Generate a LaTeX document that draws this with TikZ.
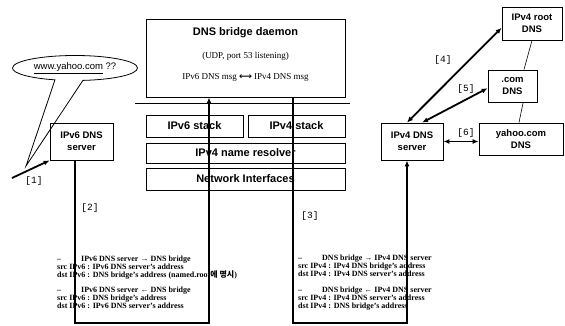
\documentclass[tikz,border=0pt]{standalone}
\usepackage{fontspec}
\setmainfont{Liberation Serif}
\setsansfont{Liberation Sans}
\setmonofont{Liberation Mono}
\newfontfamily\krfont{Noto Sans CJK KR}
\newfontfamily\symfont{DejaVu Sans}
\usetikzlibrary{calc, shapes.callouts, arrows.meta}

\tikzset{
  box/.style={draw, line width=0.8pt, inner sep=0pt, align=center,
    font=\sffamily\bfseries\fontsize{9.5}{12}\selectfont},
  bigbox/.style={box, font=\sffamily\bfseries\fontsize{11}{13}\selectfont},
  link/.style={line width=1.8pt},
  arr/.style={link, -{Latex[length=6pt,width=5pt]}},
  dblarr/.style={link, {Latex[length=6pt,width=5pt]}-{Latex[length=6pt,width=5pt]}},
  tag/.style={font=\ttfamily\fontsize{9.5}{10}\selectfont, inner sep=0pt},
  msg/.style={font=\bfseries\fontsize{8}{8}\selectfont, align=left,
    anchor=north west, inner sep=0pt},
}

\begin{document}
\begin{tikzpicture}[x=1pt, y=-1pt]
    \useasboundingbox (0,0) rectangle (565,325);
    % bridge host
    \node[box, minimum width=199, minimum height=78] (bridge) at (245.5,58) {};
    \node[font=\sffamily\bfseries\fontsize{11}{13}\selectfont] (title) at (245.5,33) {DNS bridge daemon};
    \node[font=\fontsize{9}{10}\selectfont] (udp) at (245.5,56) {(UDP, port 53 listening)};
    \node[font=\fontsize{9}{10}\selectfont] (conv) at (245.5,77) {IPv6 DNS msg {\symfont\bfseries ⟷} IPv4 DNS msg};
    \coordinate (sepL) at (135,103);
    \coordinate (sepR) at (350,103);
    \draw[line width=0.8pt] (sepL) -- (sepR);
    \node[bigbox, minimum width=97, minimum height=22] (v6stack) at (194.5,126) {IPv6 stack};
    \node[bigbox, minimum width=97, minimum height=22] (v4stack) at (296.5,126) {IPv4 stack};
    \node[bigbox, minimum width=199, minimum height=20] (resolver) at (245.5,153) {IPv4 name resolver};
    \node[bigbox, minimum width=199, minimum height=22] (netif) at (245.5,179) {Network Interfaces};
    % servers
    \node[box, minimum width=63, minimum height=37] (v6dns) at (81.5,141.5) {IPv6 DNS\\server};
    \node[box, minimum width=62, minimum height=37] (v4dns) at (412,141.5) {IPv4 DNS\\server};
    \node[box, minimum width=60, minimum height=33] (root) at (532,23.5) {IPv4 root\\DNS};
    \node[box, minimum width=49, minimum height=32] (com) at (512.5,86) {.com\\DNS};
    \node[box, minimum width=84, minimum height=32] (yahoo) at (521,139) {yahoo.com\\DNS};
    % query bubble
    \node[ellipse callout, draw, line width=0.8pt, minimum width=125, minimum height=25, inner sep=0pt,
      callout absolute pointer={(26,166)}, callout pointer arc=26,
      font=\sffamily\fontsize{9.5}{10}\selectfont] (bubble) at (75,68) {\underline{www.yahoo.com} ??};
    % step 1
    \coordinate (u1) at (12,178);
    \draw[arr] (u1) -- (v6dns.south west);
    \node[tag] (t1) at (34,181) {[1]};
    % steps 2 and 3
    \coordinate (c1) at (75,323);
    \coordinate (c2) at (209,323);
    \draw[arr] (v6dns.south -| c1) -- (c1) -- (c2) -- (bridge.south -| c2);
    \node[tag] (t2) at (90,208) {[2]};
    \coordinate (c3) at (293,323);
    \coordinate (c4) at (407,323);
    \draw[arr] (bridge.south -| c3) -- (c3) -- (c4) -- (v4dns.south -| c4);
    \node[tag] (t3) at (310,216) {[3]};
    % steps 4, 5, 6
    \draw[dblarr] (v4dns.105) -- (root.188);
    \node[tag] (t4) at (443,60) {[4]};
    \draw[dblarr] (v4dns.62) -- (com.185);
    \node[tag] (t5) at (466,89) {[5]};
    \draw[dblarr] (v4dns.east) -- (v4dns.east -| yahoo.west);
    \node[tag] (t6) at (466,133) {[6]};
    \draw[line width=0.6pt] (root.south) -- (com.55);
    \draw[line width=0.6pt] (com.303) -- (yahoo.97);
    % packet addresses
    \node[msg] (m6a) at (57,256) {\makebox[24pt][l]{–}IPv6 DNS server → DNS bridge\\
      src IPv6 : IPv6 DNS server's address\\
      dst IPv6 : DNS bridge's address (named.root{\krfont 에 명시})};
    \node[msg] (m6b) at (57,287) {\makebox[24pt][l]{–}IPv6 DNS server ← DNS bridge\\
      src IPv6 : DNS bridge's address\\
      dst IPv6 : IPv6 DNS server's address};
    \node[msg] (m4a) at (298,255) {\makebox[24pt][l]{–}DNS bridge → IPv4 DNS server\\
      src IPv4 : IPv4 DNS bridge's address\\
      dst IPv4 : IPv4 DNS server's address};
    \node[msg] (m4b) at (298,287) {\makebox[24pt][l]{–}DNS bridge ← IPv4 DNS server\\
      src IPv4 : IPv4 DNS server's address\\
      dst IPv4 : DNS bridge's address};
\end{tikzpicture}
\end{document}
